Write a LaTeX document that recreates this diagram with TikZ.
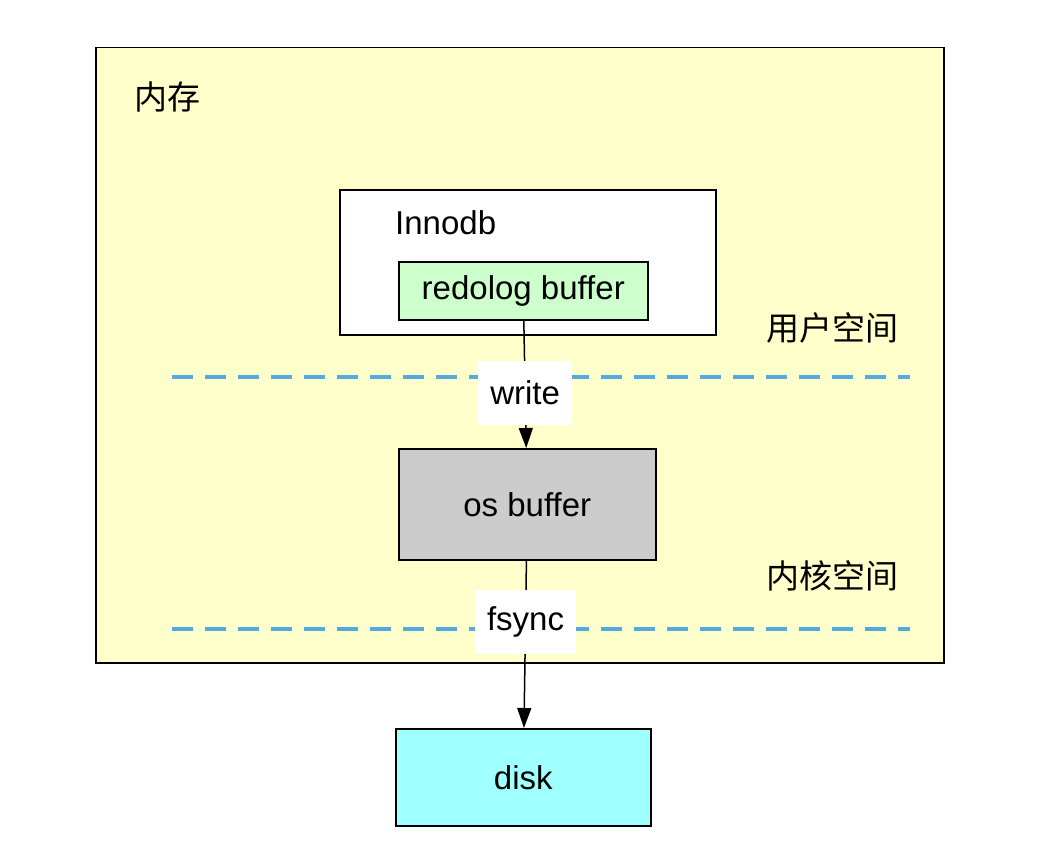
\documentclass[tikz,border=0pt]{standalone}
\usepackage{fontspec}
\setmainfont{Liberation Sans}
\newfontfamily\cjk{Noto Sans CJK SC}
\usetikzlibrary{arrows.meta}

\definecolor{memyellow}{RGB}{255,255,204}
\definecolor{buffgreen}{RGB}{204,255,204}
\definecolor{osgrey}{RGB}{204,204,204}
\definecolor{diskcyan}{RGB}{160,255,255}
\definecolor{splitblue}{RGB}{84,170,224}

\tikzset{
  box/.style={draw, line width=1.5pt, inner sep=0pt, anchor=north west},
  lbl/.style={fill=white, inner xsep=12pt, inner ysep=0pt, minimum height=64pt},
  split/.style={draw=splitblue, line width=4pt, dash pattern=on 21pt off 12pt},
  flow/.style={line width=1.5pt, -{Triangle[length=20pt,width=14pt]}}
}

\begin{document}
\begin{tikzpicture}[x=1pt,y=-1pt,font=\fontsize{33}{40}\selectfont]
  \useasboundingbox (0,0) rectangle (1044,856);

  % memory area
  \node[box, fill=memyellow, minimum width=848pt, minimum height=615pt] (mem) at (95,47) {};
  \node (memtext) at (167,97) {\cjk 内存};

  % user / kernel split
  \draw[split] (172,377) -- (910,377);
  \draw[split] (172,629) -- (910,629);
  \node (user) at (832,328) {\cjk 用户空间};
  \node (kernel) at (832,576) {\cjk 内核空间};

  % innodb
  \node[box, fill=white, minimum width=376pt, minimum height=145pt] (innodb) at (339,189) {};
  \node[anchor=west, inner sep=0pt] (innodbtext) at (395,223) {Innodb};
  \node[box, fill=buffgreen, minimum width=249pt, minimum height=58pt] (redolog) at (398,261) {redolog buffer};

  % os + disk
  \node[box, fill=osgrey, minimum width=257pt, minimum height=111pt] (osbuf) at (398,448) {os buffer};
  \node[box, fill=diskcyan, minimum width=255pt, minimum height=97pt] (disk) at (395,728) {disk};

  \draw[flow] (redolog) -- (osbuf) node[lbl, pos=0.57] (write) {write};
  \draw[flow] (osbuf) -- (disk) node[lbl, pos=0.37] (fsync) {fsync};
\end{tikzpicture}
\end{document}
